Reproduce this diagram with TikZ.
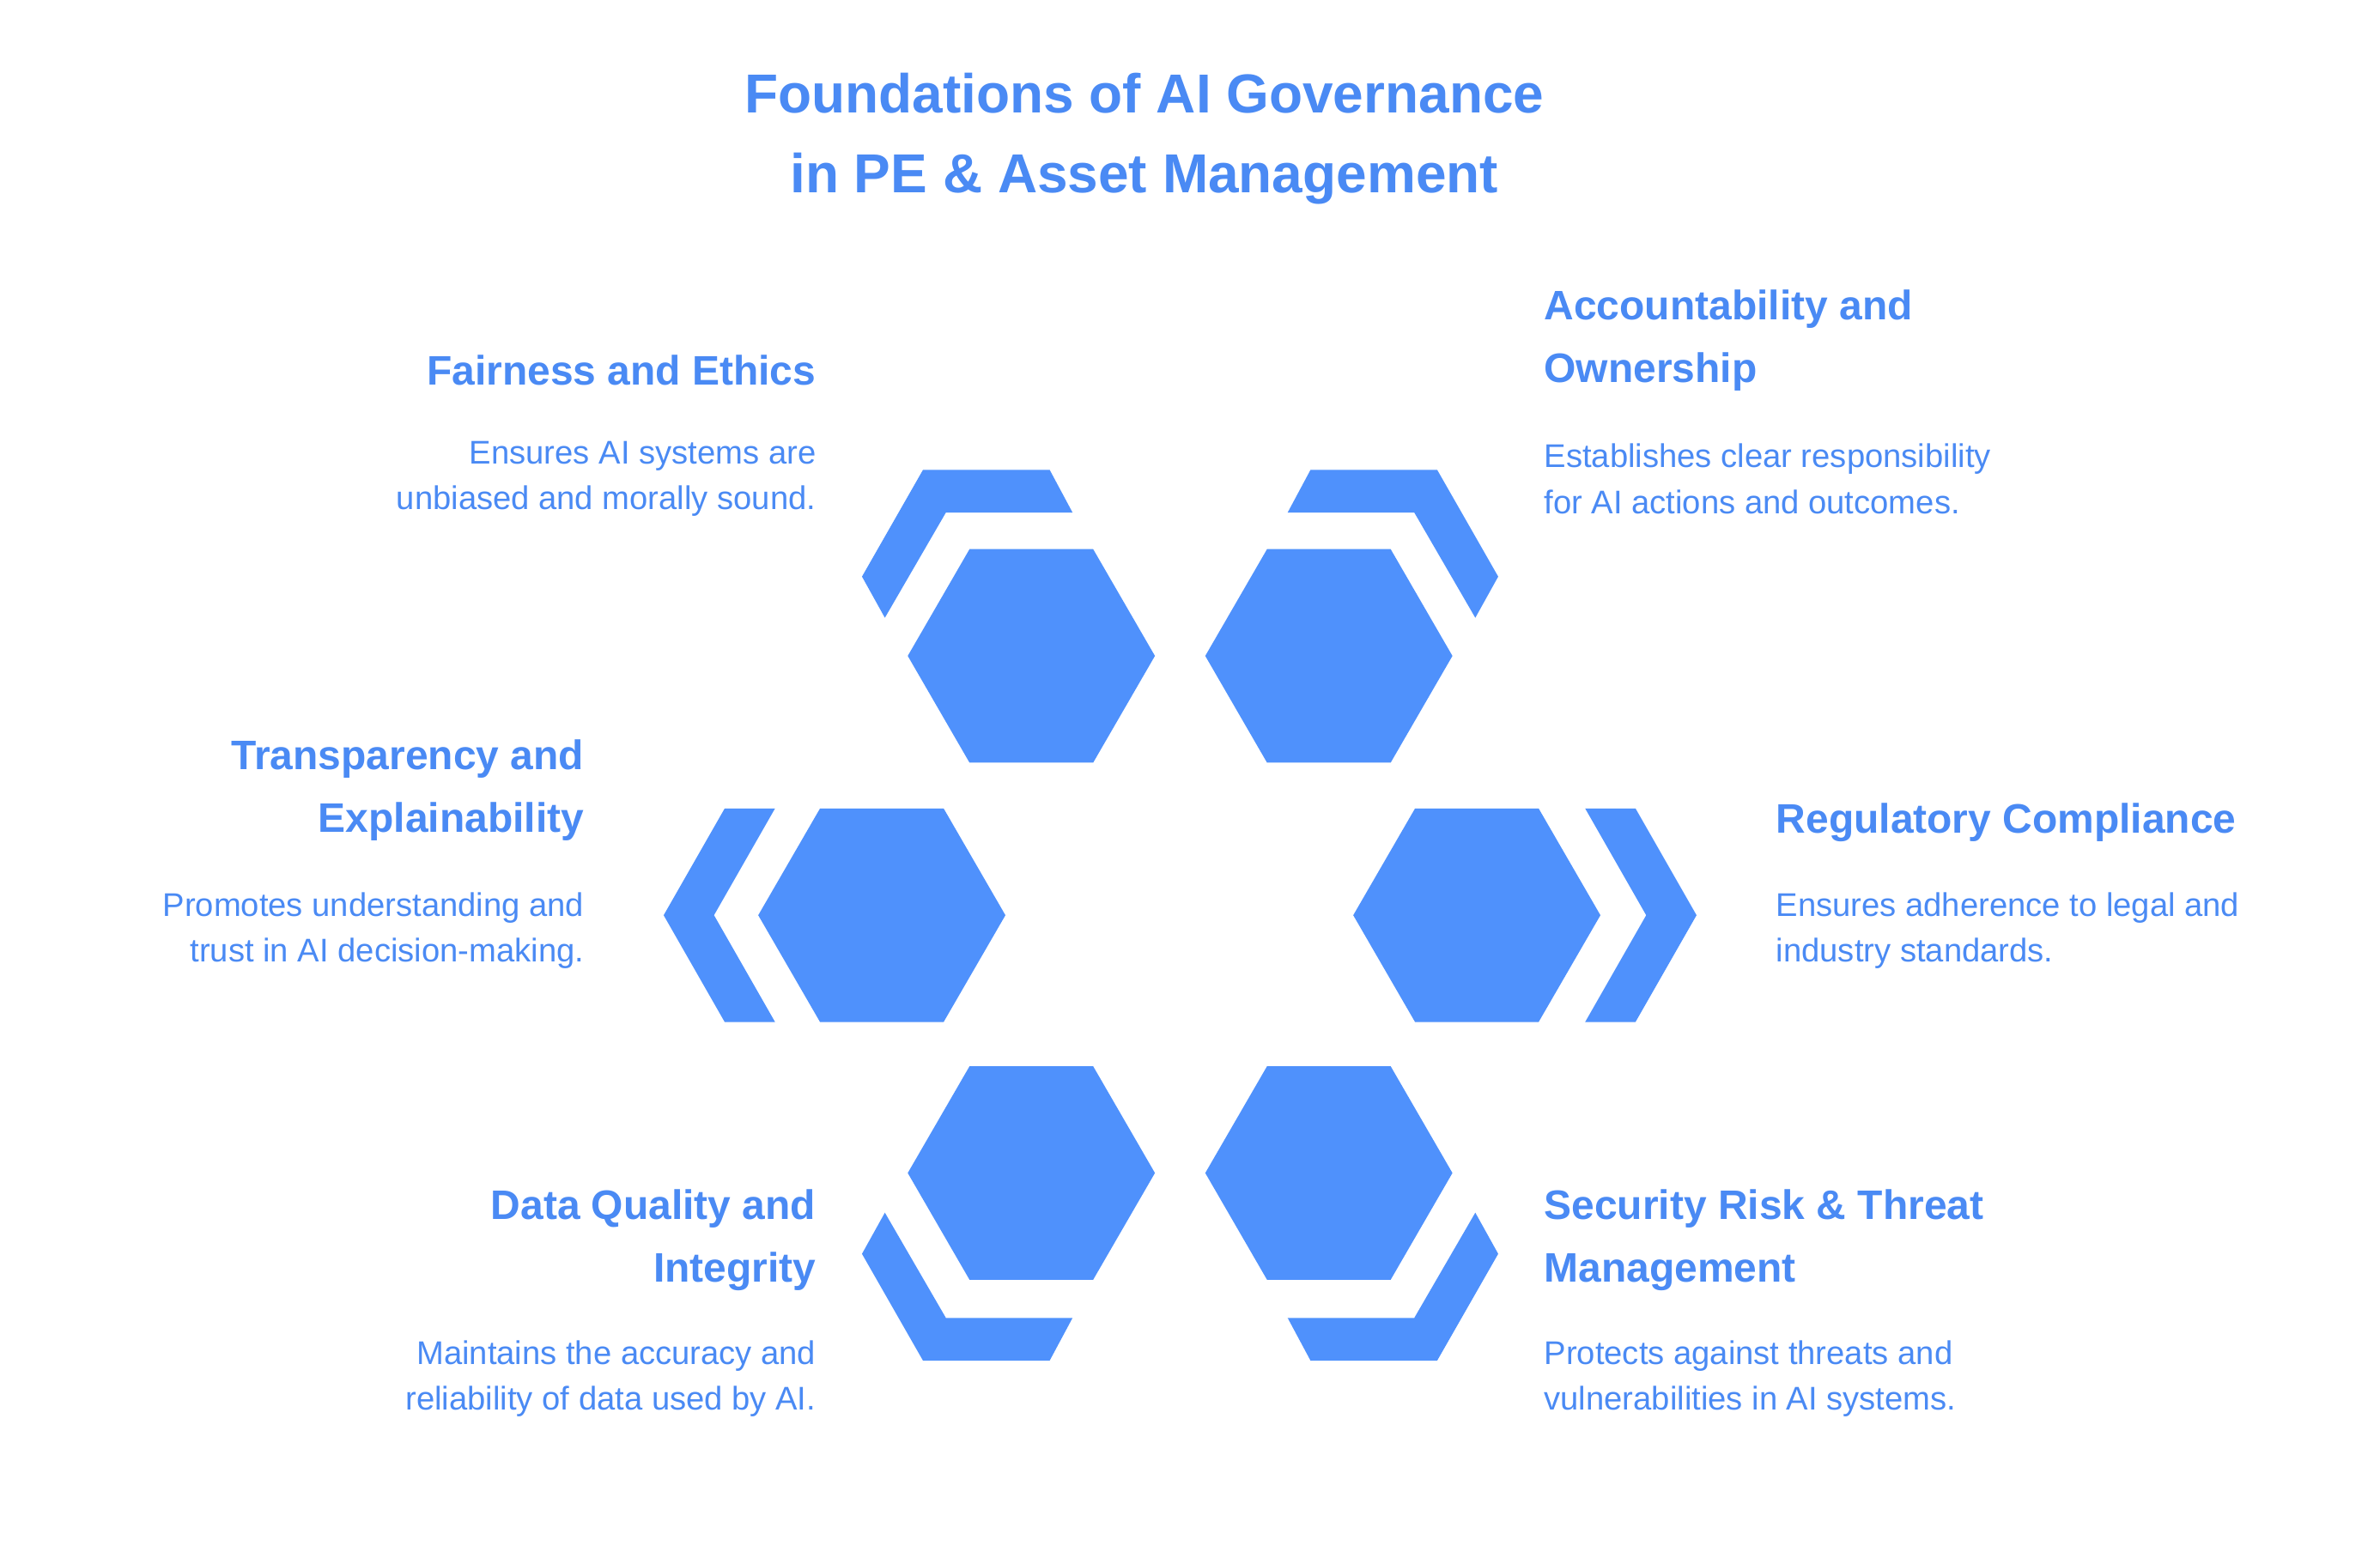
\documentclass[tikz,border=0pt]{standalone}
\usepackage{fontspec}
\setmainfont{Liberation Sans}
\definecolor{hexblue}{HTML}{4F91FC}
\definecolor{txtblue}{HTML}{4A8AF4}
\begin{document}
\begin{tikzpicture}[x=1pt,y=-1pt,
  hexfill/.style={fill=hexblue,draw=none},
  head/.style={inner sep=0pt,text=txtblue,font=\fontsize{27}{41}\selectfont\bfseries},
  body/.style={inner sep=0pt,text=txtblue,font=\fontsize{21.5}{30}\selectfont},
  ttl/.style={inner sep=0pt,text=txtblue,align=center,font=\fontsize{36}{52}\selectfont\bfseries}]
\useasboundingbox[fill=white] (0,0) rectangle (1560,1013);
% hexagons
\foreach \n/\cx/\cy in {tl/676/430,tr/871/430,l/578/600,r/968/600,bl/676/769,br/871/769}{
  \fill[hexfill] (\cx+81,\cy) -- (\cx+40.5,\cy+70) -- (\cx-40.5,\cy+70) -- (\cx-81,\cy) -- (\cx-40.5,\cy-70) -- (\cx+40.5,\cy-70) -- cycle;
}
% brackets
\fill[hexfill] (580,405) -- (565,378) -- (605,308) -- (688,308) -- (703,336) -- (620,336) -- cycle;
\fill[hexfill] (967,405) -- (982,378) -- (942,308) -- (859,308) -- (844,336) -- (927,336) -- cycle;
\fill[hexfill] (580,795) -- (565,822) -- (605,892) -- (688,892) -- (703,864) -- (620,864) -- cycle;
\fill[hexfill] (967,795) -- (982,822) -- (942,892) -- (859,892) -- (844,864) -- (927,864) -- cycle;
\fill[hexfill] (435,600) -- (475,530) -- (508,530) -- (468,600) -- (508,670) -- (475,670) -- cycle;
\fill[hexfill] (1112,600) -- (1072,530) -- (1039,530) -- (1079,600) -- (1039,670) -- (1072,670) -- cycle;
% title
\node[ttl] (title) at (750,91) {Foundations of AI Governance\\in PE \& Asset Management};
% texts
\node[head,anchor=east,align=right] (h1) at (535,243) {Fairness and Ethics};
\node[body,anchor=east,align=right] (b1) at (535,314) {Ensures AI systems are\\unbiased and morally sound.};
\node[head,anchor=west,align=left] (h2) at (1012,223) {Accountability and\\Ownership};
\node[body,anchor=west,align=left] (b2) at (1012,314) {Establishes clear responsibility\\for AI actions and outcomes.};
\node[head,anchor=east,align=right] (h3) at (383,518) {Transparency and\\Explainability};
\node[body,anchor=east,align=right] (b3) at (383,610) {Promotes understanding and\\trust in AI decision-making.};
\node[head,anchor=west,align=left] (h4) at (1164,539) {Regulatory Compliance};
\node[body,anchor=west,align=left] (b4) at (1164,610) {Ensures adherence to legal and\\industry standards.};
\node[head,anchor=east,align=right] (h5) at (535,813) {Data Quality and\\Integrity};
\node[body,anchor=east,align=right] (b5) at (535,904) {Maintains the accuracy and\\reliability of data used by AI.};
\node[head,anchor=west,align=left] (h6) at (1012,813) {Security Risk \& Threat\\Management};
\node[body,anchor=west,align=left] (b6) at (1012,904) {Protects against threats and\\vulnerabilities in AI systems.};
\end{tikzpicture}
\end{document}
